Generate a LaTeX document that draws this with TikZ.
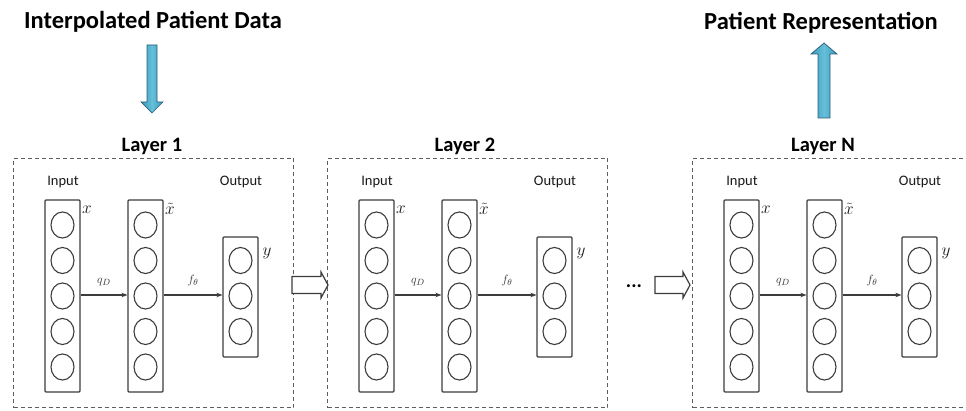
\documentclass[tikz,border=0pt]{standalone}
\usepackage{fontspec}
\setmainfont{Carlito}
\newfontfamily\serifit{Liberation Serif}
\usetikzlibrary{arrows.meta,shapes.geometric,calc}
\definecolor{linegray}{HTML}{3C3C3C}
\definecolor{dashgray}{HTML}{5E5E5E}
\definecolor{bluefill}{HTML}{3A9BBD}
\definecolor{bluelight}{HTML}{66BFD8}
\definecolor{blueedge}{HTML}{2B5E78}
\tikzset{
  layerbox/.style={draw=dashgray, line width=1pt, dash pattern=on 4pt off 3pt, minimum width=280pt, minimum height=249pt, anchor=north west, inner sep=0pt},
  colbox/.style={draw=linegray, line width=1.1pt, rounded corners=1pt, minimum width=35pt, inner sep=0pt},
  neuron/.style={ellipse, draw=linegray, line width=1.1pt, minimum width=23pt, minimum height=26pt, inner sep=0pt},
  titletext/.style={font=\fontsize{24.5}{26}\selectfont\bfseries, text=black},
  layertext/.style={font=\fontsize{20.5}{22}\selectfont\bfseries, text=black},
  iotext/.style={font=\fontsize{14.5}{16}\selectfont, text=black!90},
  vartext/.style={font=\fontsize{16}{17}\selectfont, text=black!90, inner sep=0pt},
  maptext/.style={font=\fontsize{13}{14}\selectfont, text=black!80, inner sep=0pt},
  mapline/.style={draw=linegray, line width=1.1pt, -{Stealth[length=6pt,width=4.5pt]}},
  hollow/.style={draw=linegray, line width=1.2pt, fill=white, line join=miter},
  bigblue/.style={draw=blueedge, line width=0.7pt, left color=bluefill, right color=bluefill, middle color=bluelight, shading angle=90}
}
\begin{document}
\begin{tikzpicture}[x=1pt,y=-1pt]
\useasboundingbox (0,0) rectangle (966,411);
\fill[white] (0,0) rectangle (966,411);
% titles
\node[titletext] (tin) at (153,22) {Interpolated Patient Data};
\node[titletext] (tout) at (821,23) {Patient Representation};
% layers
\foreach \L/\n/\lab/\lx in {13/1/Layer 1/139, 327/2/Layer 2/138, 692/N/Layer N/131}{
  \node[layerbox] (box\n) at (\L,158) {};
  \node[layertext] (lab\n) at (\L+\lx,146) {\lab};
  \node[iotext] (inlab\n) at (\L+50,182) {Input};
  \node[iotext] (outlab\n) at (\L+228,182) {Output};
  \node[colbox, minimum height=192pt] (in\n) at (\L+49.5,296) {};
  \node[colbox, minimum height=192pt] (xt\n) at (\L+132.5,296) {};
  \node[colbox, minimum height=120pt] (out\n) at (\L+227.5,297) {};
  \foreach \k in {-2,...,2}{
    \node[neuron] (in\n c\k) at (\L+49.5,296+35.5*\k) {};
    \node[neuron] (xt\n c\k) at (\L+132.5,296+35.5*\k) {};
  }
  \foreach \k in {-1,0,1}{
    \node[neuron] (out\n c\k) at (\L+227.5,296+35.5*\k) {};
  }
  \node[vartext] (xl\n) at (\L+74,210) {$x$};
  \node[vartext] (xtl\n) at (\L+157,209) {$\tilde{x}$};
  \node[vartext] (yl\n) at (\L+254,253) {$y$};
  \draw[mapline] (in\n.east |- 0,295) -- (xt\n.west |- 0,295) node[maptext, midway, above=9pt] (q\n) {$q_D$};
  \draw[mapline] (xt\n.east |- 0,295) -- (out\n.west |- 0,295) node[maptext, midway, above=9pt] (f\n) {$f_\theta$};
}
% dots
\node[font=\fontsize{20}{20}\selectfont\bfseries] (dots) at (634,286) {...};
% hollow arrows between layers
\draw[hollow] (292,276.5) -- (321,276.5) -- (321,272) -- (328,285) -- (321,298) -- (321,293.5) -- (292,293.5) -- cycle;
\draw[hollow] (655,276.5) -- (683,276.5) -- (683,272) -- (690,285) -- (683,298) -- (683,293.5) -- (655,293.5) -- cycle;
% blue arrows
\draw[bigblue] (147,45) -- (157,45) -- (157,102) -- (163,102) -- (152,113) -- (141,102) -- (147,102) -- cycle;
\draw[bigblue] (818,118) -- (830,118) -- (830,54) -- (837,54) -- (824,43) -- (811,54) -- (818,54) -- cycle;
\end{tikzpicture}
\end{document}
